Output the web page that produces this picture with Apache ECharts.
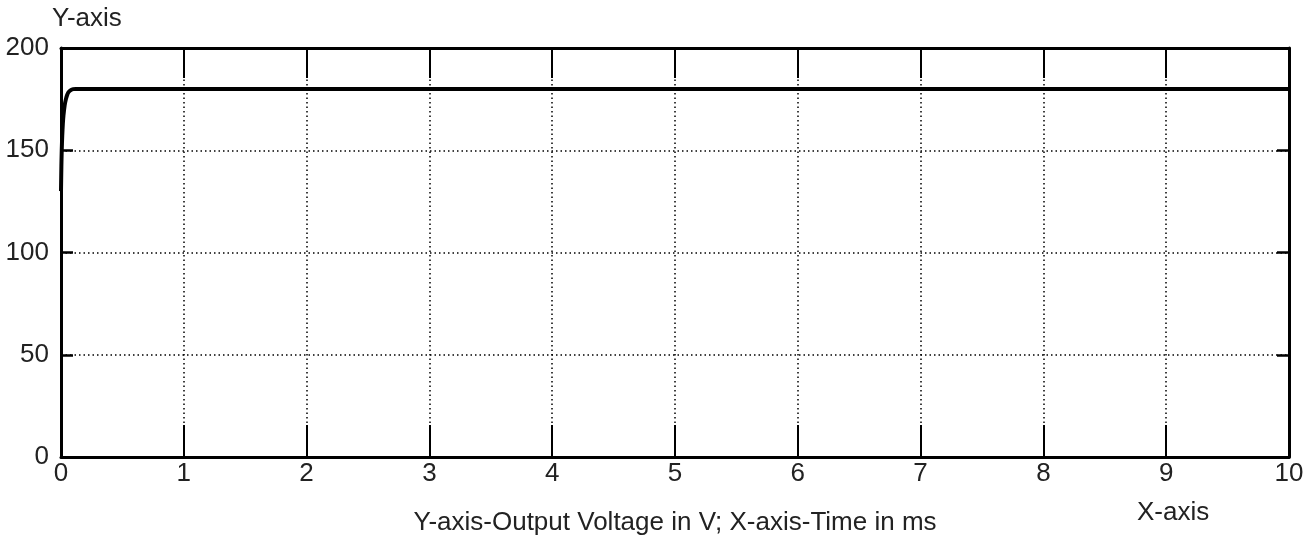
<!DOCTYPE html>
<html><head><meta charset="utf-8">
<script src="https://cdn.jsdelivr.net/npm/echarts@6/dist/echarts.min.js"></script>
<style>html,body{margin:0;padding:0;background:#fff}#c{width:1312px;height:542px}</style>
</head><body><div id="c"></div>
<script>
const timeMs = [0, 0.003, 0.006, 0.01, 0.015, 0.02, 0.03, 0.04, 0.05, 0.06, 0.08, 0.1, 0.12, 0.15, 1, 2, 3, 4, 5, 6, 7, 8, 9, 10];
const voltage = [130, 142, 150, 157, 163, 167, 172, 175, 177, 178.3, 179.4, 179.9, 180, 180, 180, 180, 180, 180, 180, 180, 180, 180, 180, 180];
const xTicks = [0, 1, 2, 3, 4, 5, 6, 7, 8, 9, 10];
const yTicks = [0, 50, 100, 150, 200];
const yName = 'Y-axis';
const xName = 'X-axis';
const caption = 'Y-axis-Output Voltage in V; X-axis-Time in ms';

const font = 'Liberation Sans, Arial, sans-serif';
const fs = 26;
const chart = echarts.init(document.getElementById('c'), null, {renderer: 'canvas'});
const lineStyle = {color: '#000', width: 3};
const gridDots = {show: true, lineStyle: {color: '#000', width: 1.5, type: [1.5, 3]}};
chart.setOption({
  animation: false,
  backgroundColor: '#fff',
  grid: {left: 61, right: 23, top: 48, bottom: 85, containLabel: false},
  graphic: [
    {type: 'text', left: 52, top: 6, style: {text: yName, font: fs + 'px ' + font, fill: '#222'}},
    {type: 'text', left: 1137, top: 500, style: {text: xName, font: fs + 'px ' + font, fill: '#222'}},
    {type: 'text', x: 675, y: 523, style: {text: caption, font: fs + 'px ' + font, fill: '#222', align: 'center', verticalAlign: 'middle'}}
  ],
  xAxis: [{
    type: 'value', min: xTicks[0], max: xTicks[xTicks.length - 1], interval: 1,
    axisLine: {show: true, onZero: false, lineStyle},
    axisTick: {show: true, inside: true, length: 32, lineStyle: {color: '#000', width: 2}},
    axisLabel: {fontFamily: font, fontSize: fs, color: '#222', margin: 4},
    splitLine: gridDots
  }, {
    type: 'value', position: 'top', min: xTicks[0], max: xTicks[xTicks.length - 1], interval: 1,
    axisLine: {show: true, onZero: false, lineStyle},
    axisTick: {show: true, inside: true, length: 30, lineStyle: {color: '#000', width: 2}},
    axisLabel: {show: false}, splitLine: {show: false}
  }],
  yAxis: [{
    type: 'value', min: yTicks[0], max: yTicks[yTicks.length - 1], interval: 50,
    axisLine: {show: true, onZero: false, lineStyle},
    axisTick: {show: true, inside: true, length: 12, lineStyle: {color: '#000', width: 2.5}},
    axisLabel: {fontFamily: font, fontSize: fs, color: '#222', margin: 12},
    splitLine: gridDots
  }, {
    type: 'value', position: 'right', min: yTicks[0], max: yTicks[yTicks.length - 1], interval: 50,
    axisLine: {show: true, onZero: false, lineStyle},
    axisTick: {show: true, inside: true, length: 12, lineStyle: {color: '#000', width: 2.5}},
    axisLabel: {show: false}, splitLine: {show: false}
  }],
  series: [{
    type: 'line', data: timeMs.map((t, i) => [t, voltage[i]]),
    showSymbol: false, smooth: 0.3,
    lineStyle: {color: '#000', width: 4}, z: 5
  }]
});
</script></body></html>
